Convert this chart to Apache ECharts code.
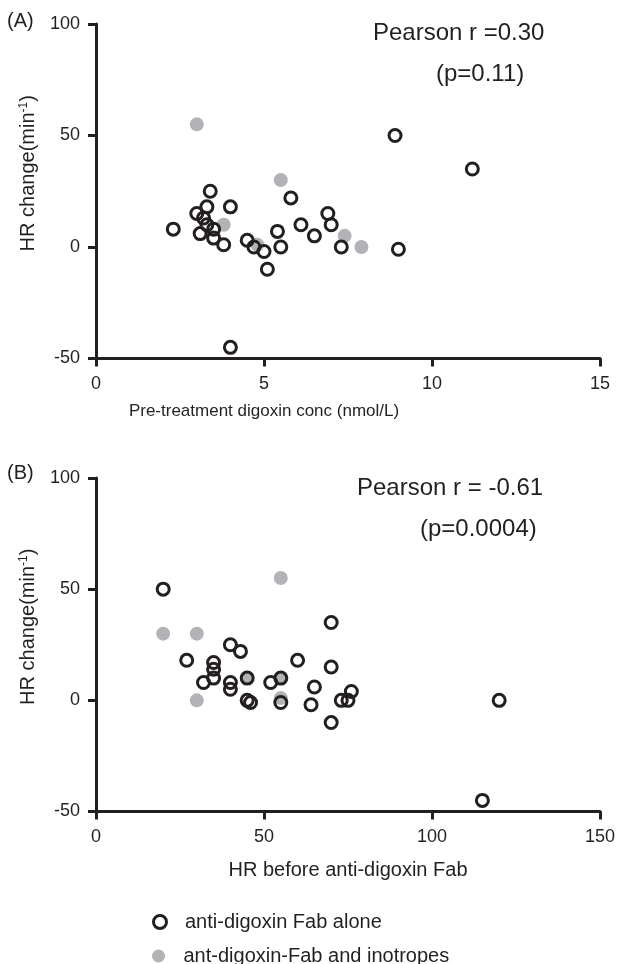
<!DOCTYPE html>
<html>
<head>
<meta charset="utf-8">
<script src="https://cdn.jsdelivr.net/npm/echarts@6/dist/echarts.min.js"></script>
<style>
html,body{margin:0;padding:0;background:#fff;}
#chart{width:618px;height:964px;}
</style>
</head>
<body>
<div id="chart"></div>
<script>
// ---- data ----
var nameAlone = 'anti-digoxin Fab alone';
var nameInotropes = 'ant-digoxin-Fab and inotropes';

// Panel A: pre-treatment digoxin conc (nmol/L) vs HR change
var panelA_alone = [[2.3,8],[3.0,15],[3.1,6],[3.2,13],[3.3,18],[3.3,10],[3.4,25],[3.5,8],[3.5,4],[3.8,1],[4.0,18],[4.0,-45],[4.5,3],[4.7,0],[5.0,-2],[5.1,-10],[5.4,7],[5.5,0],[5.8,22],[6.1,10],[6.5,5],[6.9,15],[7.0,10],[7.3,0],[8.9,50],[9.0,-1],[11.2,35]];
var panelA_inotropes = [[3.0,55],[3.8,10],[4.8,1],[5.5,30],[7.4,5],[7.9,0]];

// Panel B: HR before anti-digoxin Fab vs HR change
var panelB_alone = [[20,50],[27,18],[32,8],[35,17],[35,14],[35,10],[40,25],[40,8],[40,5],[43,22],[45,10],[45,0],[46,-1],[52,8],[55,10],[55,-1],[60,18],[64,-2],[65,6],[70,35],[70,15],[70,-10],[73,0],[75,0],[76,4],[115,-45],[120,0]];
var panelB_inotropes = [[20,30],[30,30],[30,0],[45,10],[55,55],[55,10],[55,1]];

var xTitleA = 'Pre-treatment digoxin conc (nmol/L)';
var xTitleB = 'HR before anti-digoxin Fab';
var yTitle = 'HR change(min{sup|-1})';
var statsA = ['Pearson r =0.30', '(p=0.11)'];
var statsB = ['Pearson r = -0.61', '(p=0.0004)'];

// ---- styles ----
var dark = '#231f20';
var gray = '#b2b3b6';
var font = 'Liberation Sans, Arial, sans-serif';

function xAxisCfg(gi, max, interval, title, fs, gap, pad) {
  return {
    type: 'value', gridIndex: gi, min: 0, max: max, interval: interval,
    name: title, nameLocation: 'middle', nameGap: gap,
    nameTextStyle: {fontFamily: font, fontSize: fs, color: dark, padding: pad},
    axisLine: {show: true, onZero: false, lineStyle: {color: dark, width: 3}},
    axisTick: {show: true, length: 8, lineStyle: {color: dark, width: 3}},
    axisLabel: {fontFamily: font, fontSize: 18, color: dark, margin: 17},
    splitLine: {show: false}
  };
}
function yAxisCfg(gi) {
  return {
    type: 'value', gridIndex: gi, min: -50, max: 100, interval: 50,
    name: yTitle, nameLocation: 'middle', nameGap: 58, nameRotate: 90,
    nameTextStyle: {fontFamily: font, fontSize: 20, color: dark, padding: [0,0,0,36],
      rich: {sup: {fontFamily: font, fontSize: 12, color: dark, verticalAlign: 'top', lineHeight: 14}}},
    axisLine: {show: true, onZero: false, lineStyle: {color: dark, width: 3}},
    axisTick: {show: true, length: 8, lineStyle: {color: dark, width: 3}},
    axisLabel: {fontFamily: font, fontSize: 18, color: dark, margin: 16},
    splitLine: {show: false}
  };
}
function aloneSeries(i, data) {
  return {name: nameAlone, type: 'scatter', xAxisIndex: i, yAxisIndex: i, data: data,
    symbol: 'circle', symbolSize: 12, z: 3,
    itemStyle: {color: 'rgba(0,0,0,0)', borderColor: dark, borderWidth: 3, opacity: 1}};
}
function inoSeries(i, data) {
  return {name: nameInotropes, type: 'scatter', xAxisIndex: i, yAxisIndex: i, data: data,
    symbol: 'circle', symbolSize: 14, z: 2,
    itemStyle: {color: gray, opacity: 1}};
}
function legendCfg(top, item) {
  return {
    orient: 'vertical', left: 147, top: top, itemWidth: 40, itemHeight: 13,
    textStyle: {fontFamily: font, fontSize: 20, color: dark, lineHeight: 20},
    data: [item]
  };
}

var chart = echarts.init(document.getElementById('chart'), null, {renderer: 'canvas'});
chart.setOption({
  animation: false,
  backgroundColor: '#fff',
  grid: [
    {left: 96, right: 18, top: 24, height: 334.5},
    {left: 96, right: 18, top: 478, height: 333.5}
  ],
  xAxis: [xAxisCfg(0, 15, 5, xTitleA, 17, 44, [0,168,0,0]), xAxisCfg(1, 150, 50, xTitleB, 20, 49, [0,0,0,0])],
  yAxis: [yAxisCfg(0), yAxisCfg(1)],
  legend: [
    legendCfg(907, {name: nameAlone, icon: 'circle', itemStyle: {color: 'rgba(0,0,0,0)', borderColor: dark, borderWidth: 3}}),
    legendCfg(941, {name: nameInotropes, icon: 'circle', itemStyle: {color: gray, borderWidth: 0}})
  ],
  graphic: [
    {type: 'text', left: 7, top: 11, style: {text: '(A)', font: '20px ' + font, fill: dark}},
    {type: 'text', left: 7, top: 463, style: {text: '(B)', font: '20px ' + font, fill: dark}},
    {type: 'text', left: 373, top: 21, style: {text: statsA[0], font: '24px ' + font, fill: dark}},
    {type: 'text', left: 436, top: 62, style: {text: statsA[1], font: '24px ' + font, fill: dark}},
    {type: 'text', left: 357, top: 476, style: {text: statsB[0], font: '24px ' + font, fill: dark}},
    {type: 'text', left: 420, top: 517, style: {text: statsB[1], font: '24px ' + font, fill: dark}}
  ],
  series: [
    inoSeries(0, panelA_inotropes), aloneSeries(0, panelA_alone),
    inoSeries(1, panelB_inotropes), aloneSeries(1, panelB_alone)
  ]
});
</script>
</body>
</html>
